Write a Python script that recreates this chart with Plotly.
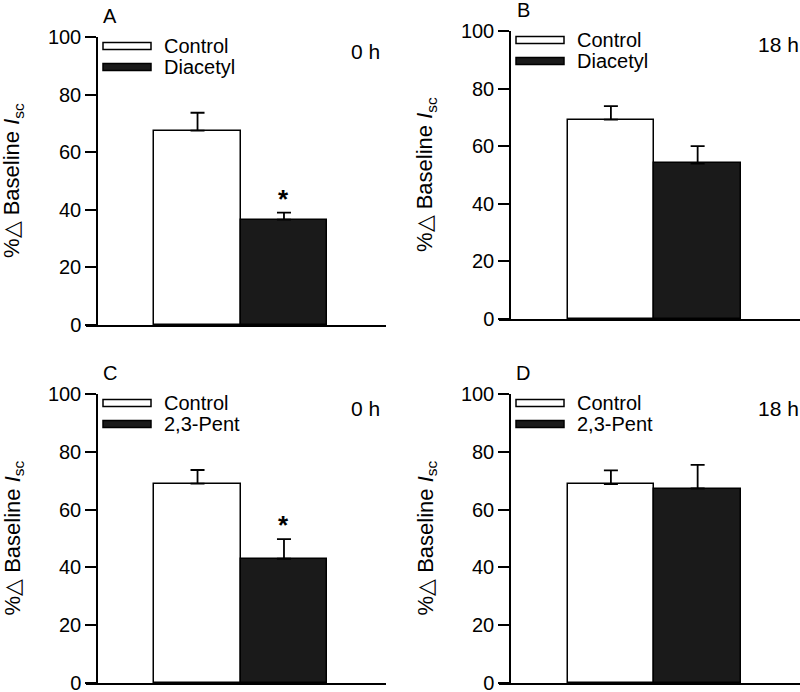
import plotly.graph_objects as go

# values (% change of baseline Isc, mean and SEM)
panel_labels = ["A", "B", "C", "D"]
timepoints = ["0 h", "18 h", "0 h", "18 h"]
treatments = ["Diacetyl", "Diacetyl", "2,3-Pent", "2,3-Pent"]
control_mean = [67.5, 69.2, 69.0, 68.8]
control_sem = [6.2, 4.7, 4.7, 4.8]
treat_mean = [36.6, 54.0, 43.0, 67.3]
treat_sem = [2.4, 6.0, 6.8, 8.2]
significant = [True, False, True, False]
y_ticks = [0, 20, 40, 60, 80, 100]

W, H = 800, 692
FONT = "Liberation Sans, Arial, sans-serif"
BLACK = "#1a1a1a"


def fx(p):
    return p / W


def fy(p):
    return 1 - p / H


def note(text, x, y, size, **kw):
    d = dict(text=text, x=x, y=y, xref="paper", yref="paper",
             xanchor="center", yanchor="middle", showarrow=False,
             font=dict(family=FONT, size=size, color="black"))
    d.update(kw)
    return d


# panel geometry in pixels: y axis x-position, right end, top (100), bottom (0)
geom = [
    (97, 386, 37, 325),
    (510, 800, 31, 319),
    (97, 386, 394, 683),
    (510, 800, 394, 683),
]
TICK = 11

fig = go.Figure()
layout = {}
annotations = []
shapes = []

for i in range(4):
    n = "" if i == 0 else str(i + 1)
    xa, xend, ytop, ybot = geom[i]
    fig.add_trace(go.Bar(
        x=[0, 1],
        y=[control_mean[i], treat_mean[i]],
        width=1,
        marker=dict(color=["white", BLACK], line=dict(color="black", width=1.5)),
        error_y=dict(type="data", symmetric=False,
                     array=[control_sem[i], treat_sem[i]], arrayminus=[0, 0],
                     color="black", thickness=1.8, width=7),
        xaxis="x" + n, yaxis="y" + n, showlegend=False, hoverinfo="skip",
    ))
    layout["xaxis" + n] = dict(
        domain=[fx(xa - TICK), fx(xend)], range=[-1.29, 2.18],
        anchor="y" + n, showline=True, linecolor="black", linewidth=1.5,
        showticklabels=False, ticks="", showgrid=False, zeroline=False,
    )
    layout["yaxis" + n] = dict(
        domain=[fy(ybot), fy(ytop)], range=[0, 100], anchor="free",
        position=fx(xa), tickvals=y_ticks, ticks="outside", ticklen=TICK,
        tickwidth=1.5, tickcolor="black", showline=True, linecolor="black",
        linewidth=1.5, showgrid=False, zeroline=False,
        ticklabeloverflow="allow",
        tickfont=dict(family=FONT, size=20, color="black"),
    )

    # y title
    annotations.append(note("%\u25b3 Baseline <i>I</i><sub>sc</sub>",
                            fx(xa - 84), fy((ytop + ybot) / 2), 22,
                            textangle=-90))
    # panel letter
    annotations.append(note(panel_labels[i], fx(xa + 13), fy(ytop - 21), 20))
    # time point
    annotations.append(note(timepoints[i], fx(xa + 268), fy(ytop + 14), 21))
    # legend
    for lab, col, yc in [("Control", "white", ytop + 9),
                         (treatments[i], BLACK, ytop + 30)]:
        shapes.append(dict(
            type="rect", xref="paper", yref="paper",
            x0=fx(xa + 6), x1=fx(xa + 54), y0=fy(yc - 3.5), y1=fy(yc + 3.5),
            fillcolor=col, line=dict(color="black", width=1.5),
        ))
        annotations.append(note(lab, fx(xa + 65), fy(yc), 20, xanchor="left"))
    if significant[i]:
        annotations.append(dict(
            text="<b>*</b>", x=1, y=treat_mean[i] + treat_sem[i], xref="x" + n,
            yref="y" + n, xanchor="center", yanchor="bottom", showarrow=False,
            yshift=-3, font=dict(family=FONT, size=26, color="black"),
        ))

fig.update_layout(
    **layout,
    annotations=annotations,
    shapes=shapes,
    width=W, height=H,
    margin=dict(l=0, r=0, t=0, b=0, autoexpand=False),
    plot_bgcolor="white", paper_bgcolor="white",
    bargap=0,
)

# drop the page's default body margin so the figure sits at the window corner
fig.write_html("out.html", config={"displayModeBar": False},
               post_script="document.body.style.margin='0';"
                           "document.body.style.overflow='hidden';")
